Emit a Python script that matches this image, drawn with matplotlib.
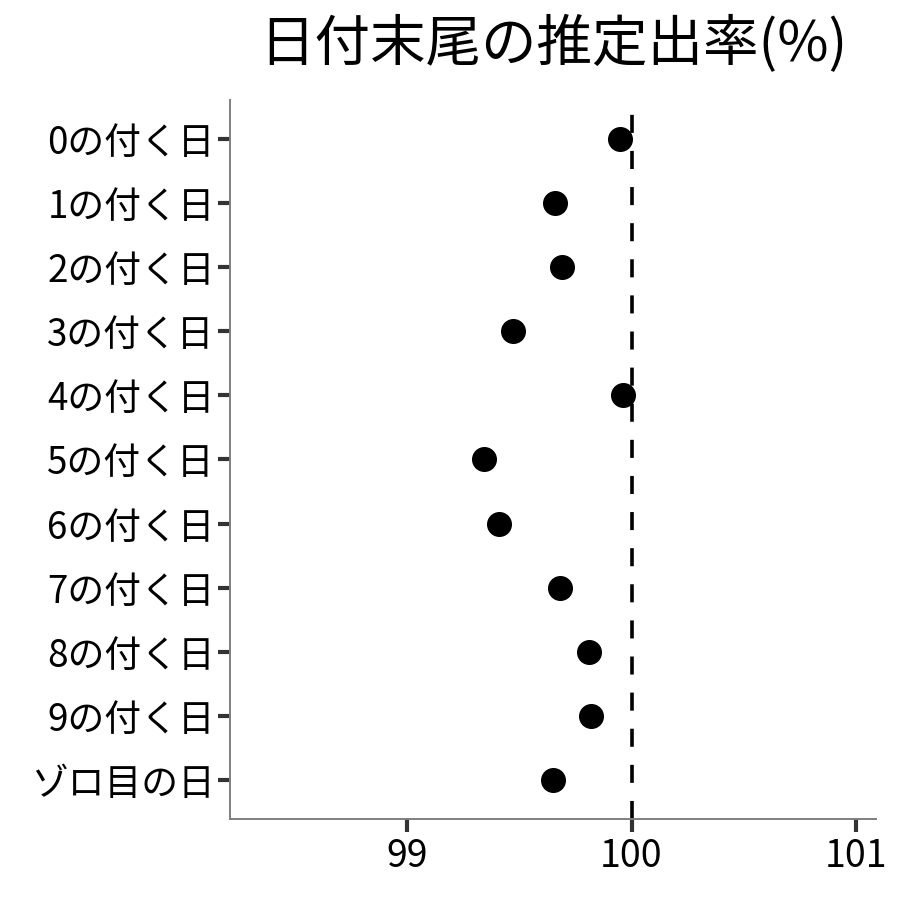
import matplotlib
matplotlib.use("Agg")
from matplotlib import pyplot as plt

plt.rcParams["font.family"] = ["Noto Sans CJK JP", "DejaVu Sans"]

labels = [
    "0の付く日", "1の付く日", "2の付く日", "3の付く日", "4の付く日",
    "5の付く日", "6の付く日", "7の付く日", "8の付く日", "9の付く日",
    "ゾロ目の日",
]
rates = [99.95, 99.66, 99.69, 99.47, 99.96, 99.34, 99.41, 99.68, 99.81, 99.82, 99.65]
xticks = [99, 100, 101]

fig = plt.figure(figsize=(9, 9), dpi=100)
ax = fig.add_axes([0.2556, 0.09, 0.7178, 0.7989])

ypos = list(range(len(labels)))
ax.axvline(100, color="black", lw=2.6, linestyle=(0, (5, 5)), zorder=1)
ax.plot(rates, ypos, "o", color="black", markersize=17, zorder=2)

ax.set_yticks(ypos)
ax.set_yticklabels(labels)
ax.set_ylim(len(labels) - 0.4, -0.6)
ax.set_xticks(xticks)
ax.set_xticklabels([str(t) for t in xticks])
ax.set_xlim(98.21, 101.09)

for side in ("top", "right"):
    ax.spines[side].set_visible(False)
for side in ("left", "bottom"):
    ax.spines[side].set_color("#7f7f7f")
    ax.spines[side].set_linewidth(1.4)
ax.tick_params(axis="both", length=9, width=3, color="#333333",
               labelsize=27, pad=4, labelcolor="black")
ax.tick_params(axis="y", labelsize=26.5, pad=2)

fig.suptitle("日付末尾の推定出率(%)", x=0.615, y=0.982, fontsize=40)

fig.savefig("out.png", dpi=100)
